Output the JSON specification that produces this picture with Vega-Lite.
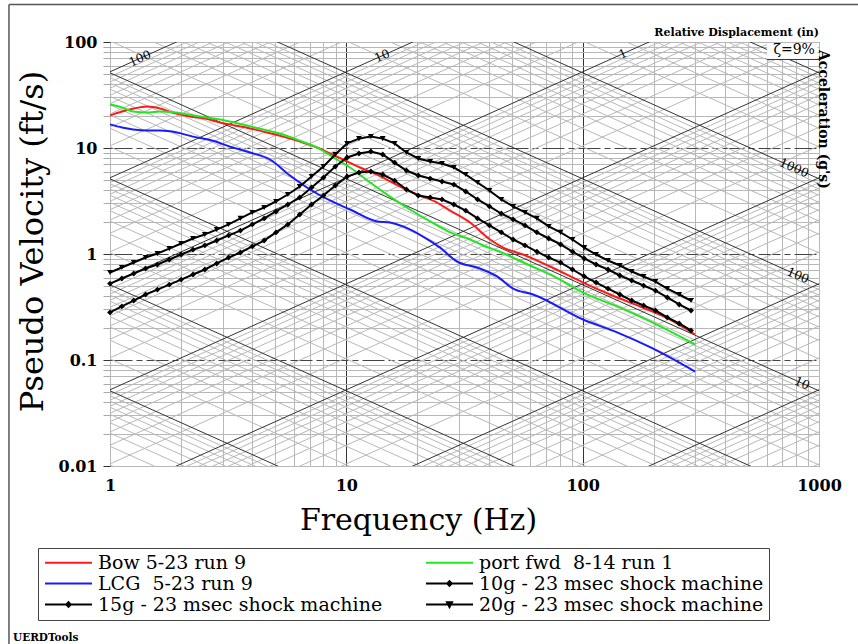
{
"$schema": "https://vega.github.io/schema/vega-lite/v6.json",
"width": 709,
"height": 424,
"autosize": {"type": "none"},
"padding": {"left": 110, "top": 42, "right": 39, "bottom": 178},
"background": "white",
"config": {
  "view": {"stroke": "#444", "strokeWidth": 1},
  "font": "DejaVu Serif",
  "axis": {"labelFont": "DejaVu Serif", "titleFont": "DejaVu Serif", "labelColor": "black", "titleColor": "black"},
  "legend": {"labelFont": "DejaVu Serif", "titleFont": "DejaVu Serif"},
  "text": {"font": "DejaVu Serif", "color": "black"}
},
"datasets": {
  "curves": [
    {"series":"Bow 5-23 run 9","f":1,"v":20.3},{"series":"Bow 5-23 run 9","f":1.124,"v":22.1},{"series":"Bow 5-23 run 9","f":1.263,"v":23.6},{"series":"Bow 5-23 run 9","f":1.434,"v":24.6},{"series":"Bow 5-23 run 9","f":1.628,"v":23.6},{"series":"Bow 5-23 run 9","f":1.884,"v":21.2},{"series":"Bow 5-23 run 9","f":2.181,"v":19.8},{"series":"Bow 5-23 run 9","f":2.523,"v":19.0},{"series":"Bow 5-23 run 9","f":2.921,"v":17.4},{"series":"Bow 5-23 run 9","f":3.381,"v":16.3},{"series":"Bow 5-23 run 9","f":3.913,"v":15.3},{"series":"Bow 5-23 run 9","f":4.617,"v":14.0},{"series":"Bow 5-23 run 9","f":5.397,"v":12.8},{"series":"Bow 5-23 run 9","f":6.37,"v":11.5},{"series":"Bow 5-23 run 9","f":7.52,"v":10.1},{"series":"Bow 5-23 run 9","f":8.53,"v":8.87},{"series":"Bow 5-23 run 9","f":9.68,"v":7.79},{"series":"Bow 5-23 run 9","f":11.43,"v":6.55},{"series":"Bow 5-23 run 9","f":14.3,"v":5.26},{"series":"Bow 5-23 run 9","f":16.88,"v":4.33},{"series":"Bow 5-23 run 9","f":19.92,"v":3.64},{"series":"Bow 5-23 run 9","f":24.2,"v":3.06},{"series":"Bow 5-23 run 9","f":27.47,"v":2.57},{"series":"Bow 5-23 run 9","f":33.39,"v":1.98},{"series":"Bow 5-23 run 9","f":40.56,"v":1.37},{"series":"Bow 5-23 run 9","f":46.05,"v":1.149},{"series":"Bow 5-23 run 9","f":55.96,"v":0.989},{"series":"Bow 5-23 run 9","f":72.8,"v":0.762},{"series":"Bow 5-23 run 9","f":100.4,"v":0.538},{"series":"Bow 5-23 run 9","f":130.6,"v":0.415},{"series":"Bow 5-23 run 9","f":175,"v":0.32},{"series":"Bow 5-23 run 9","f":234.4,"v":0.241},{"series":"Bow 5-23 run 9","f":299,"v":0.174},
    {"series":"port fwd  8-14 run 1","f":1,"v":25.7},{"series":"port fwd  8-14 run 1","f":1.124,"v":24.1},{"series":"port fwd  8-14 run 1","f":1.251,"v":22.1},{"series":"port fwd  8-14 run 1","f":1.434,"v":21.6},{"series":"port fwd  8-14 run 1","f":1.628,"v":22.1},{"series":"port fwd  8-14 run 1","f":1.884,"v":21.6},{"series":"port fwd  8-14 run 1","f":2.404,"v":19.8},{"series":"port fwd  8-14 run 1","f":3.066,"v":18.2},{"series":"port fwd  8-14 run 1","f":3.913,"v":16.0},{"series":"port fwd  8-14 run 1","f":5.397,"v":13.4},{"series":"port fwd  8-14 run 1","f":6.37,"v":11.7},{"series":"port fwd  8-14 run 1","f":7.52,"v":10.1},{"series":"port fwd  8-14 run 1","f":9.13,"v":7.79},{"series":"port fwd  8-14 run 1","f":10.37,"v":6.55},{"series":"port fwd  8-14 run 1","f":12.6,"v":4.72},{"series":"port fwd  8-14 run 1","f":15.3,"v":3.48},{"series":"port fwd  8-14 run 1","f":18.61,"v":2.63},{"series":"port fwd  8-14 run 1","f":22.61,"v":2.03},{"series":"port fwd  8-14 run 1","f":27.47,"v":1.6},{"series":"port fwd  8-14 run 1","f":33.39,"v":1.37},{"series":"port fwd  8-14 run 1","f":37.89,"v":1.204},{"series":"port fwd  8-14 run 1","f":44.72,"v":1.053},{"series":"port fwd  8-14 run 1","f":52.78,"v":0.887},{"series":"port fwd  8-14 run 1","f":59.9,"v":0.779},{"series":"port fwd  8-14 run 1","f":72.8,"v":0.641},{"series":"port fwd  8-14 run 1","f":100.4,"v":0.433},{"series":"port fwd  8-14 run 1","f":139.8,"v":0.32},{"series":"port fwd  8-14 run 1","f":192.9,"v":0.231},{"series":"port fwd  8-14 run 1","f":299,"v":0.14},
    {"series":"LCG  5-23 run 9","f":1,"v":16.7},{"series":"LCG  5-23 run 9","f":1.124,"v":15.6},{"series":"LCG  5-23 run 9","f":1.251,"v":14.96},{"series":"LCG  5-23 run 9","f":1.434,"v":14.6},{"series":"LCG  5-23 run 9","f":1.628,"v":14.6},{"series":"LCG  5-23 run 9","f":1.921,"v":14.0},{"series":"LCG  5-23 run 9","f":2.245,"v":12.8},{"series":"LCG  5-23 run 9","f":2.729,"v":11.7},{"series":"LCG  5-23 run 9","f":3.221,"v":10.3},{"series":"LCG  5-23 run 9","f":3.913,"v":9.07},{"series":"LCG  5-23 run 9","f":4.754,"v":7.79},{"series":"LCG  5-23 run 9","f":5.777,"v":5.5},{"series":"LCG  5-23 run 9","f":7.02,"v":4.06},{"series":"LCG  5-23 run 9","f":8.53,"v":3.2},{"series":"LCG  5-23 run 9","f":10.37,"v":2.63},{"series":"LCG  5-23 run 9","f":13.49,"v":2.03},{"series":"LCG  5-23 run 9","f":15.3,"v":1.98},{"series":"LCG  5-23 run 9","f":17.38,"v":1.82},{"series":"LCG  5-23 run 9","f":21.12,"v":1.46},{"series":"LCG  5-23 run 9","f":24.92,"v":1.149},{"series":"LCG  5-23 run 9","f":29.41,"v":0.849},{"series":"LCG  5-23 run 9","f":35.74,"v":0.746},{"series":"LCG  5-23 run 9","f":43.43,"v":0.614},{"series":"LCG  5-23 run 9","f":50.77,"v":0.472},{"series":"LCG  5-23 run 9","f":61.68,"v":0.415},{"series":"LCG  5-23 run 9","f":100.4,"v":0.241},{"series":"LCG  5-23 run 9","f":139.8,"v":0.182},{"series":"LCG  5-23 run 9","f":192.9,"v":0.132},{"series":"LCG  5-23 run 9","f":299,"v":0.0778},
    {"series":"20g - 23 msec shock machine","f":1,"v":0.669},{"series":"20g - 23 msec shock machine","f":1.122,"v":0.746},{"series":"20g - 23 msec shock machine","f":1.26,"v":0.831},{"series":"20g - 23 msec shock machine","f":1.414,"v":0.927},{"series":"20g - 23 msec shock machine","f":1.587,"v":1.011},{"series":"20g - 23 msec shock machine","f":1.782,"v":1.124},{"series":"20g - 23 msec shock machine","f":2,"v":1.257},{"series":"20g - 23 msec shock machine","f":2.245,"v":1.4},{"series":"20g - 23 msec shock machine","f":2.52,"v":1.53},{"series":"20g - 23 msec shock machine","f":2.828,"v":1.7},{"series":"20g - 23 msec shock machine","f":3.175,"v":1.9},{"series":"20g - 23 msec shock machine","f":3.564,"v":2.167},{"series":"20g - 23 msec shock machine","f":4,"v":2.465},{"series":"20g - 23 msec shock machine","f":4.49,"v":2.747},{"series":"20g - 23 msec shock machine","f":5.04,"v":3.13},{"series":"20g - 23 msec shock machine","f":5.657,"v":3.64},{"series":"20g - 23 msec shock machine","f":6.35,"v":4.33},{"series":"20g - 23 msec shock machine","f":7.127,"v":5.38},{"series":"20g - 23 msec shock machine","f":8,"v":6.68},{"series":"20g - 23 msec shock machine","f":8.98,"v":8.68},{"series":"20g - 23 msec shock machine","f":10.08,"v":11.04},{"series":"20g - 23 msec shock machine","f":11.31,"v":12.26},{"series":"20g - 23 msec shock machine","f":12.7,"v":12.81},{"series":"20g - 23 msec shock machine","f":14.25,"v":12.26},{"series":"20g - 23 msec shock machine","f":16,"v":11.04},{"series":"20g - 23 msec shock machine","f":17.96,"v":9.07},{"series":"20g - 23 msec shock machine","f":20.16,"v":7.96},{"series":"20g - 23 msec shock machine","f":22.63,"v":7.46},{"series":"20g - 23 msec shock machine","f":25.4,"v":7.13},{"series":"20g - 23 msec shock machine","f":28.51,"v":6.55},{"series":"20g - 23 msec shock machine","f":32,"v":5.62},{"series":"20g - 23 msec shock machine","f":35.92,"v":4.72},{"series":"20g - 23 msec shock machine","f":40.32,"v":3.97},{"series":"20g - 23 msec shock machine","f":45.25,"v":3.27},{"series":"20g - 23 msec shock machine","f":50.8,"v":2.81},{"series":"20g - 23 msec shock machine","f":57.02,"v":2.465},{"series":"20g - 23 msec shock machine","f":64,"v":2.167},{"series":"20g - 23 msec shock machine","f":71.84,"v":1.82},{"series":"20g - 23 msec shock machine","f":80.63,"v":1.6},{"series":"20g - 23 msec shock machine","f":90.51,"v":1.37},{"series":"20g - 23 msec shock machine","f":101.6,"v":1.149},{"series":"20g - 23 msec shock machine","f":114,"v":0.989},{"series":"20g - 23 msec shock machine","f":128,"v":0.868},{"series":"20g - 23 msec shock machine","f":143.7,"v":0.779},{"series":"20g - 23 msec shock machine","f":161.3,"v":0.684},{"series":"20g - 23 msec shock machine","f":181,"v":0.614},{"series":"20g - 23 msec shock machine","f":203.2,"v":0.55},{"series":"20g - 23 msec shock machine","f":228.1,"v":0.472},{"series":"20g - 23 msec shock machine","f":256,"v":0.415},{"series":"20g - 23 msec shock machine","f":287.4,"v":0.364},
    {"series":"15g - 23 msec shock machine","f":1,"v":0.526},{"series":"15g - 23 msec shock machine","f":1.122,"v":0.587},{"series":"15g - 23 msec shock machine","f":1.26,"v":0.655},{"series":"15g - 23 msec shock machine","f":1.414,"v":0.73},{"series":"15g - 23 msec shock machine","f":1.587,"v":0.796},{"series":"15g - 23 msec shock machine","f":1.782,"v":0.887},{"series":"15g - 23 msec shock machine","f":2,"v":0.989},{"series":"15g - 23 msec shock machine","f":2.245,"v":1.1},{"series":"15g - 23 msec shock machine","f":2.52,"v":1.204},{"series":"15g - 23 msec shock machine","f":2.828,"v":1.34},{"series":"15g - 23 msec shock machine","f":3.175,"v":1.497},{"series":"15g - 23 msec shock machine","f":3.564,"v":1.663},{"series":"15g - 23 msec shock machine","f":4,"v":1.9},{"series":"15g - 23 msec shock machine","f":4.49,"v":2.167},{"series":"15g - 23 msec shock machine","f":5.04,"v":2.518},{"series":"15g - 23 msec shock machine","f":5.657,"v":2.93},{"series":"15g - 23 msec shock machine","f":6.35,"v":3.416},{"series":"15g - 23 msec shock machine","f":7.127,"v":4.24},{"series":"15g - 23 msec shock machine","f":8,"v":5.26},{"series":"15g - 23 msec shock machine","f":8.98,"v":6.68},{"series":"15g - 23 msec shock machine","f":10.08,"v":8.14},{"series":"15g - 23 msec shock machine","f":11.31,"v":8.87},{"series":"15g - 23 msec shock machine","f":12.7,"v":9.27},{"series":"15g - 23 msec shock machine","f":14.25,"v":8.68},{"series":"15g - 23 msec shock machine","f":16,"v":7.29},{"series":"15g - 23 msec shock machine","f":17.96,"v":6.13},{"series":"15g - 23 msec shock machine","f":20.16,"v":5.5},{"series":"15g - 23 msec shock machine","f":22.63,"v":5.15},{"series":"15g - 23 msec shock machine","f":25.4,"v":4.83},{"series":"15g - 23 msec shock machine","f":28.51,"v":4.52},{"series":"15g - 23 msec shock machine","f":32,"v":3.89},{"series":"15g - 23 msec shock machine","f":35.92,"v":3.27},{"series":"15g - 23 msec shock machine","f":40.32,"v":2.81},{"series":"15g - 23 msec shock machine","f":45.25,"v":2.41},{"series":"15g - 23 msec shock machine","f":50.8,"v":2.12},{"series":"15g - 23 msec shock machine","f":57.02,"v":1.86},{"series":"15g - 23 msec shock machine","f":64,"v":1.6},{"series":"15g - 23 msec shock machine","f":71.84,"v":1.4},{"series":"15g - 23 msec shock machine","f":80.63,"v":1.23},{"series":"15g - 23 msec shock machine","f":90.51,"v":1.053},{"series":"15g - 23 msec shock machine","f":101.6,"v":0.907},{"series":"15g - 23 msec shock machine","f":114,"v":0.796},{"series":"15g - 23 msec shock machine","f":128,"v":0.714},{"series":"15g - 23 msec shock machine","f":143.7,"v":0.627},{"series":"15g - 23 msec shock machine","f":161.3,"v":0.562},{"series":"15g - 23 msec shock machine","f":181,"v":0.504},{"series":"15g - 23 msec shock machine","f":203.2,"v":0.452},{"series":"15g - 23 msec shock machine","f":228.1,"v":0.389},{"series":"15g - 23 msec shock machine","f":256,"v":0.334},{"series":"15g - 23 msec shock machine","f":287.4,"v":0.293},
    {"series":"10g - 23 msec shock machine","f":1,"v":0.281},{"series":"10g - 23 msec shock machine","f":1.122,"v":0.32},{"series":"10g - 23 msec shock machine","f":1.26,"v":0.364},{"series":"10g - 23 msec shock machine","f":1.414,"v":0.415},{"series":"10g - 23 msec shock machine","f":1.587,"v":0.462},{"series":"10g - 23 msec shock machine","f":1.782,"v":0.515},{"series":"10g - 23 msec shock machine","f":2,"v":0.574},{"series":"10g - 23 msec shock machine","f":2.245,"v":0.641},{"series":"10g - 23 msec shock machine","f":2.52,"v":0.714},{"series":"10g - 23 msec shock machine","f":2.828,"v":0.814},{"series":"10g - 23 msec shock machine","f":3.175,"v":0.926},{"series":"10g - 23 msec shock machine","f":3.564,"v":1.033},{"series":"10g - 23 msec shock machine","f":4,"v":1.178},{"series":"10g - 23 msec shock machine","f":4.49,"v":1.34},{"series":"10g - 23 msec shock machine","f":5.04,"v":1.598},{"series":"10g - 23 msec shock machine","f":5.657,"v":1.9},{"series":"10g - 23 msec shock machine","f":6.35,"v":2.36},{"series":"10g - 23 msec shock machine","f":7.127,"v":2.93},{"series":"10g - 23 msec shock machine","f":8,"v":3.56},{"series":"10g - 23 msec shock machine","f":8.98,"v":4.42},{"series":"10g - 23 msec shock machine","f":10.08,"v":5.38},{"series":"10g - 23 msec shock machine","f":11.31,"v":5.87},{"series":"10g - 23 msec shock machine","f":12.7,"v":6.0},{"series":"10g - 23 msec shock machine","f":14.25,"v":5.62},{"series":"10g - 23 msec shock machine","f":16,"v":4.93},{"series":"10g - 23 msec shock machine","f":17.96,"v":4.06},{"series":"10g - 23 msec shock machine","f":20.16,"v":3.56},{"series":"10g - 23 msec shock machine","f":22.63,"v":3.42},{"series":"10g - 23 msec shock machine","f":25.4,"v":3.27},{"series":"10g - 23 msec shock machine","f":28.51,"v":2.93},{"series":"10g - 23 msec shock machine","f":32,"v":2.57},{"series":"10g - 23 msec shock machine","f":35.92,"v":2.167},{"series":"10g - 23 msec shock machine","f":40.32,"v":1.86},{"series":"10g - 23 msec shock machine","f":45.25,"v":1.6},{"series":"10g - 23 msec shock machine","f":50.8,"v":1.37},{"series":"10g - 23 msec shock machine","f":57.02,"v":1.204},{"series":"10g - 23 msec shock machine","f":64,"v":1.053},{"series":"10g - 23 msec shock machine","f":71.84,"v":0.926},{"series":"10g - 23 msec shock machine","f":80.63,"v":0.831},{"series":"10g - 23 msec shock machine","f":90.51,"v":0.714},{"series":"10g - 23 msec shock machine","f":101.6,"v":0.614},{"series":"10g - 23 msec shock machine","f":114,"v":0.538},{"series":"10g - 23 msec shock machine","f":128,"v":0.472},{"series":"10g - 23 msec shock machine","f":143.7,"v":0.415},{"series":"10g - 23 msec shock machine","f":161.3,"v":0.364},{"series":"10g - 23 msec shock machine","f":181,"v":0.327},{"series":"10g - 23 msec shock machine","f":203.2,"v":0.293},{"series":"10g - 23 msec shock machine","f":228.1,"v":0.252},{"series":"10g - 23 msec shock machine","f":256,"v":0.221},{"series":"10g - 23 msec shock machine","f":287.4,"v":0.19}
  ],
  "diag": [
    {"t":"d","m":2,"v1":1.0472e-5,"v2":1.0472e-2},{"t":"d","m":3,"v1":1.5708e-5,"v2":1.5708e-2},{"t":"d","m":4,"v1":2.0944e-5,"v2":2.0944e-2},{"t":"d","m":5,"v1":2.618e-5,"v2":2.618e-2},{"t":"d","m":6,"v1":3.1416e-5,"v2":3.1416e-2},{"t":"d","m":7,"v1":3.6652e-5,"v2":3.6652e-2},{"t":"d","m":8,"v1":4.1888e-5,"v2":4.1888e-2},{"t":"d","m":9,"v1":4.7124e-5,"v2":4.7124e-2},
    {"t":"d","m":1,"v1":5.236e-5,"v2":5.236e-2},{"t":"d","m":2,"v1":1.0472e-4,"v2":1.0472e-1},{"t":"d","m":3,"v1":1.5708e-4,"v2":1.5708e-1},{"t":"d","m":4,"v1":2.0944e-4,"v2":2.0944e-1},{"t":"d","m":5,"v1":2.618e-4,"v2":2.618e-1},{"t":"d","m":6,"v1":3.1416e-4,"v2":3.1416e-1},{"t":"d","m":7,"v1":3.6652e-4,"v2":3.6652e-1},{"t":"d","m":8,"v1":4.1888e-4,"v2":4.1888e-1},{"t":"d","m":9,"v1":4.7124e-4,"v2":4.7124e-1},
    {"t":"d","m":1,"v1":5.236e-4,"v2":5.236e-1},{"t":"d","m":2,"v1":1.0472e-3,"v2":1.0472e0},{"t":"d","m":3,"v1":1.5708e-3,"v2":1.5708e0},{"t":"d","m":4,"v1":2.0944e-3,"v2":2.0944e0},{"t":"d","m":5,"v1":2.618e-3,"v2":2.618e0},{"t":"d","m":6,"v1":3.1416e-3,"v2":3.1416e0},{"t":"d","m":7,"v1":3.6652e-3,"v2":3.6652e0},{"t":"d","m":8,"v1":4.1888e-3,"v2":4.1888e0},{"t":"d","m":9,"v1":4.7124e-3,"v2":4.7124e0},
    {"t":"d","m":1,"v1":5.236e-3,"v2":5.236e0},{"t":"d","m":2,"v1":1.0472e-2,"v2":1.0472e1},{"t":"d","m":3,"v1":1.5708e-2,"v2":1.5708e1},{"t":"d","m":4,"v1":2.0944e-2,"v2":2.0944e1},{"t":"d","m":5,"v1":2.618e-2,"v2":2.618e1},{"t":"d","m":6,"v1":3.1416e-2,"v2":3.1416e1},{"t":"d","m":7,"v1":3.6652e-2,"v2":3.6652e1},{"t":"d","m":8,"v1":4.1888e-2,"v2":4.1888e1},{"t":"d","m":9,"v1":4.7124e-2,"v2":4.7124e1},
    {"t":"d","m":1,"v1":5.236e-2,"v2":5.236e1},{"t":"d","m":2,"v1":1.0472e-1,"v2":1.0472e2},{"t":"d","m":3,"v1":1.5708e-1,"v2":1.5708e2},{"t":"d","m":4,"v1":2.0944e-1,"v2":2.0944e2},{"t":"d","m":5,"v1":2.618e-1,"v2":2.618e2},{"t":"d","m":6,"v1":3.1416e-1,"v2":3.1416e2},{"t":"d","m":7,"v1":3.6652e-1,"v2":3.6652e2},{"t":"d","m":8,"v1":4.1888e-1,"v2":4.1888e2},{"t":"d","m":9,"v1":4.7124e-1,"v2":4.7124e2},
    {"t":"d","m":1,"v1":5.236e-1,"v2":5.236e2},{"t":"d","m":2,"v1":1.0472e0,"v2":1.0472e3},{"t":"d","m":3,"v1":1.5708e0,"v2":1.5708e3},{"t":"d","m":4,"v1":2.0944e0,"v2":2.0944e3},{"t":"d","m":5,"v1":2.618e0,"v2":2.618e3},{"t":"d","m":6,"v1":3.1416e0,"v2":3.1416e3},{"t":"d","m":7,"v1":3.6652e0,"v2":3.6652e3},{"t":"d","m":8,"v1":4.1888e0,"v2":4.1888e3},{"t":"d","m":9,"v1":4.7124e0,"v2":4.7124e3},
    {"t":"d","m":1,"v1":5.236e0,"v2":5.236e3},{"t":"d","m":2,"v1":1.0472e1,"v2":1.0472e4},{"t":"d","m":3,"v1":1.5708e1,"v2":1.5708e4},{"t":"d","m":4,"v1":2.0944e1,"v2":2.0944e4},{"t":"d","m":5,"v1":2.618e1,"v2":2.618e4},{"t":"d","m":6,"v1":3.1416e1,"v2":3.1416e4},{"t":"d","m":7,"v1":3.6652e1,"v2":3.6652e4},{"t":"d","m":8,"v1":4.1888e1,"v2":4.1888e4},{"t":"d","m":9,"v1":4.7124e1,"v2":4.7124e4},
    {"t":"d","m":1,"v1":5.236e1,"v2":5.236e4},
    {"t":"a","m":2,"v1":1.0241e-2,"v2":1.0241e-5},{"t":"a","m":3,"v1":1.5362e-2,"v2":1.5362e-5},{"t":"a","m":4,"v1":2.0483e-2,"v2":2.0483e-5},{"t":"a","m":5,"v1":2.5604e-2,"v2":2.5604e-5},{"t":"a","m":6,"v1":3.0724e-2,"v2":3.0724e-5},{"t":"a","m":7,"v1":3.5845e-2,"v2":3.5845e-5},{"t":"a","m":8,"v1":4.0966e-2,"v2":4.0966e-5},{"t":"a","m":9,"v1":4.6086e-2,"v2":4.6086e-5},
    {"t":"a","m":1,"v1":5.1207e-2,"v2":5.1207e-5},{"t":"a","m":2,"v1":1.0241e-1,"v2":1.0241e-4},{"t":"a","m":3,"v1":1.5362e-1,"v2":1.5362e-4},{"t":"a","m":4,"v1":2.0483e-1,"v2":2.0483e-4},{"t":"a","m":5,"v1":2.5604e-1,"v2":2.5604e-4},{"t":"a","m":6,"v1":3.0724e-1,"v2":3.0724e-4},{"t":"a","m":7,"v1":3.5845e-1,"v2":3.5845e-4},{"t":"a","m":8,"v1":4.0966e-1,"v2":4.0966e-4},{"t":"a","m":9,"v1":4.6086e-1,"v2":4.6086e-4},
    {"t":"a","m":1,"v1":5.1207e-1,"v2":5.1207e-4},{"t":"a","m":2,"v1":1.0241e0,"v2":1.0241e-3},{"t":"a","m":3,"v1":1.5362e0,"v2":1.5362e-3},{"t":"a","m":4,"v1":2.0483e0,"v2":2.0483e-3},{"t":"a","m":5,"v1":2.5604e0,"v2":2.5604e-3},{"t":"a","m":6,"v1":3.0724e0,"v2":3.0724e-3},{"t":"a","m":7,"v1":3.5845e0,"v2":3.5845e-3},{"t":"a","m":8,"v1":4.0966e0,"v2":4.0966e-3},{"t":"a","m":9,"v1":4.6086e0,"v2":4.6086e-3},
    {"t":"a","m":1,"v1":5.1207e0,"v2":5.1207e-3},{"t":"a","m":2,"v1":1.0241e1,"v2":1.0241e-2},{"t":"a","m":3,"v1":1.5362e1,"v2":1.5362e-2},{"t":"a","m":4,"v1":2.0483e1,"v2":2.0483e-2},{"t":"a","m":5,"v1":2.5604e1,"v2":2.5604e-2},{"t":"a","m":6,"v1":3.0724e1,"v2":3.0724e-2},{"t":"a","m":7,"v1":3.5845e1,"v2":3.5845e-2},{"t":"a","m":8,"v1":4.0966e1,"v2":4.0966e-2},{"t":"a","m":9,"v1":4.6086e1,"v2":4.6086e-2},
    {"t":"a","m":1,"v1":5.1207e1,"v2":5.1207e-2},{"t":"a","m":2,"v1":1.0241e2,"v2":1.0241e-1},{"t":"a","m":3,"v1":1.5362e2,"v2":1.5362e-1},{"t":"a","m":4,"v1":2.0483e2,"v2":2.0483e-1},{"t":"a","m":5,"v1":2.5604e2,"v2":2.5604e-1},{"t":"a","m":6,"v1":3.0724e2,"v2":3.0724e-1},{"t":"a","m":7,"v1":3.5845e2,"v2":3.5845e-1},{"t":"a","m":8,"v1":4.0966e2,"v2":4.0966e-1},{"t":"a","m":9,"v1":4.6086e2,"v2":4.6086e-1},
    {"t":"a","m":1,"v1":5.1207e2,"v2":5.1207e-1},{"t":"a","m":2,"v1":1.0241e3,"v2":1.0241e0},{"t":"a","m":3,"v1":1.5362e3,"v2":1.5362e0},{"t":"a","m":4,"v1":2.0483e3,"v2":2.0483e0},{"t":"a","m":5,"v1":2.5604e3,"v2":2.5604e0},{"t":"a","m":6,"v1":3.0724e3,"v2":3.0724e0},{"t":"a","m":7,"v1":3.5845e3,"v2":3.5845e0},{"t":"a","m":8,"v1":4.0966e3,"v2":4.0966e0},{"t":"a","m":9,"v1":4.6086e3,"v2":4.6086e0},
    {"t":"a","m":1,"v1":5.1207e3,"v2":5.1207e0},{"t":"a","m":2,"v1":1.0241e4,"v2":1.0241e1},{"t":"a","m":3,"v1":1.5362e4,"v2":1.5362e1},{"t":"a","m":4,"v1":2.0483e4,"v2":2.0483e1},{"t":"a","m":5,"v1":2.5604e4,"v2":2.5604e1},{"t":"a","m":6,"v1":3.0724e4,"v2":3.0724e1},{"t":"a","m":7,"v1":3.5845e4,"v2":3.5845e1},{"t":"a","m":8,"v1":4.0966e4,"v2":4.0966e1},{"t":"a","m":9,"v1":4.6086e4,"v2":4.6086e1},
    {"t":"a","m":1,"v1":5.1207e4,"v2":5.1207e1}
  ]
},
"layer": [
  {
    "data": {"name": "diag"},
    "transform": [{"filter": "datum.m != 1"}],
    "mark": {"type": "rule", "clip": true, "color": "#b8b8b8", "strokeWidth": 1},
    "encoding": {
      "x": {"datum": 1, "type": "quantitative", "scale": {"type": "log", "domain": [1, 1000], "nice": false},
        "axis": {
          "values": [1,2,3,4,5,6,7,8,9,10,20,30,40,50,60,70,80,90,100,200,300,400,500,600,700,800,900,1000],
          "format": "~g",
          "labelExpr": "indexof([1,10,100,1000], datum.value) >= 0 ? datum.label : ''",
          "labelFlush": false, "labelOverlap": false,
          "labelFontWeight": "bold", "labelFontSize": 16, "labelPadding": 11,
          "ticks": false, "domain": false,
          "grid": true,
          "gridColor": {"condition": {"test": "indexof([10,100], datum.value) >= 0", "value": "#333"}, "value": "#b8b8b8"},
          "gridWidth": 1,
          "title": "Frequency (Hz)", "titleFontSize": 30, "titleFontWeight": "normal",
          "titleX": 308, "titleY": 63, "titleAlign": "center", "titleBaseline": "alphabetic"
        }},
      "x2": {"datum": 1000},
      "y": {"field": "v1", "type": "quantitative", "scale": {"type": "log", "domain": [0.01, 100], "nice": false},
        "axis": {
          "values": [0.01,0.02,0.03,0.04,0.05,0.06,0.07,0.08,0.09,0.1,0.2,0.3,0.4,0.5,0.6,0.7,0.8,0.9,1,2,3,4,5,6,7,8,9,10,20,30,40,50,60,70,80,90,100],
          "format": "~g",
          "labelExpr": "indexof([0.01,0.1,1,10,100], datum.value) >= 0 ? datum.label : ''",
          "labelFlush": false, "labelOverlap": false,
          "labelFontWeight": "bold", "labelFontSize": 16, "labelPadding": 6,
          "ticks": true, "tickSize": 7, "tickWidth": 1,
          "tickColor": {"condition": {"test": "indexof([0.01,0.1,1,10,100], datum.value) >= 0", "value": "#333"}, "value": "#aaa"},
          "domain": false,
          "grid": true,
          "gridColor": {"condition": {"test": "indexof([0.1,1,10], datum.value) >= 0", "value": "#444"}, "value": "#b8b8b8"},
          "gridDash": {"condition": {"test": "indexof([0.1,1,10], datum.value) >= 0", "value": [22,4,6,4]}, "value": []},
          "title": "Pseudo Velocity (ft/s)", "titleFontSize": 32, "titleFontWeight": "normal",
          "titleX": -68, "titleY": 199, "titleAngle": 270, "titleAlign": "center", "titleBaseline": "alphabetic"
        }},
      "y2": {"field": "v2"}
    }
  },
  {
    "data": {"name": "diag"},
    "transform": [{"filter": "datum.m == 1"}],
    "mark": {"type": "rule", "clip": true, "color": "#333", "strokeWidth": 1},
    "encoding": {
      "x": {"datum": 1, "type": "quantitative"},
      "x2": {"datum": 1000},
      "y": {"field": "v1", "type": "quantitative"},
      "y2": {"field": "v2"}
    }
  },
  {
    "data": {"values": [{}]},
    "mark": {"type": "rect", "fill": "white", "stroke": null},
    "encoding": {
      "x": {"datum": 603, "type": "quantitative"}, "x2": {"datum": 985},
      "y": {"datum": 97.8, "type": "quantitative"}, "y2": {"datum": 68.4}
    }
  },
  {
    "data": {"values": [{}]},
    "mark": {"type": "rule", "color": "#333", "strokeWidth": 1},
    "encoding": {
      "x": {"datum": 603, "type": "quantitative"}, "x2": {"datum": 1000},
      "y": {"datum": 68.4, "type": "quantitative"}
    }
  },
  {
    "data": {"values": [{}]},
    "mark": {"type": "text", "text": "ζ=9%", "fontSize": 14, "align": "center", "baseline": "middle"},
    "encoding": {"x": {"datum": 785, "type": "quantitative"}, "y": {"datum": 83.2, "type": "quantitative"}}
  },
  {
    "data": {"values": [{}]},
    "mark": {"type": "text", "text": "100", "fontSize": 12, "angle": -24, "align": "center", "baseline": "middle"},
    "encoding": {"x": {"datum": 1.339, "type": "quantitative"}, "y": {"datum": 70.1, "type": "quantitative"}}
  },
  {
    "data": {"values": [{}]},
    "mark": {"type": "text", "text": "10", "fontSize": 12, "angle": -24, "align": "center", "baseline": "middle"},
    "encoding": {"x": {"datum": 14.16, "type": "quantitative"}, "y": {"datum": 74.1, "type": "quantitative"}}
  },
  {
    "data": {"values": [{}]},
    "mark": {"type": "text", "text": "1", "fontSize": 12, "angle": -24, "align": "center", "baseline": "middle"},
    "encoding": {"x": {"datum": 148, "type": "quantitative"}, "y": {"datum": 77.5, "type": "quantitative"}}
  },
  {
    "data": {"values": [{}]},
    "mark": {"type": "text", "text": "1000", "fontSize": 12, "angle": 24, "align": "center", "baseline": "middle"},
    "encoding": {"x": {"datum": 785, "type": "quantitative"}, "y": {"datum": 6.52, "type": "quantitative"}}
  },
  {
    "data": {"values": [{}]},
    "mark": {"type": "text", "text": "100", "fontSize": 12, "angle": 24, "align": "center", "baseline": "middle"},
    "encoding": {"x": {"datum": 815, "type": "quantitative"}, "y": {"datum": 0.628, "type": "quantitative"}}
  },
  {
    "data": {"values": [{}]},
    "mark": {"type": "text", "text": "10", "fontSize": 12, "angle": 24, "align": "center", "baseline": "middle"},
    "encoding": {"x": {"datum": 848, "type": "quantitative"}, "y": {"datum": 0.0604, "type": "quantitative"}}
  },
  {
    "data": {"name": "curves"},
    "transform": [{"filter": "indexof(datum.series, 'shock') < 0"}],
    "mark": {"type": "line", "strokeWidth": 2, "interpolate": "monotone"},
    "encoding": {
      "x": {"field": "f", "type": "quantitative"},
      "y": {"field": "v", "type": "quantitative"},
      "color": {"field": "series", "type": "nominal",
        "scale": {"domain": ["Bow 5-23 run 9", "port fwd  8-14 run 1", "LCG  5-23 run 9", "10g - 23 msec shock machine", "15g - 23 msec shock machine", "20g - 23 msec shock machine"],
                  "range": ["#ff1a1a", "#22e622", "#1a1aff", "black", "black", "black"]},
        "legend": {
          "title": null,
          "orient": "none", "legendX": -72, "legendY": 506,
          "direction": "horizontal", "columns": 2, "columnPadding": 39, "rowPadding": 1,
          "padding": 5, "strokeColor": "#444", "fillColor": "white",
          "labelFont": "DejaVu Serif", "labelFontSize": 19, "labelColor": "black", "labelLimit": 500, "labelOffset": 36,
          "symbolSize": 100, "symbolStrokeWidth": 2, "symbolType": "stroke",
          "labelExpr": "replace(datum.label, '  ', '\u00a0 ')",
          "encoding": {
            "symbols": {
              "shape": {"value": {"expr": "indexof(datum.value, '20g') >= 0 ? 'M-1.5,0H7.9M2.7,-0.45L3.7,-0.45L3.2,0.5Z' : (indexof(datum.value, 'shock') >= 0 ? 'M-1.5,0H7.9M3.2,-0.45L3.65,0L3.2,0.45L2.75,0Z' : 'M-1.5,0H7.9')"}},
              "fill": {"value": {"expr": "indexof(datum.value, 'shock') >= 0 ? 'black' : 'transparent'"}}
            }
          }
        }}
    }
  },
  {
    "data": {"name": "curves"},
    "transform": [{"filter": "indexof(datum.series, 'shock') >= 0"}],
    "mark": {"type": "line", "strokeWidth": 2},
    "encoding": {
      "x": {"field": "f", "type": "quantitative"},
      "y": {"field": "v", "type": "quantitative"},
      "color": {"field": "series", "type": "nominal"}
    }
  },
  {
    "data": {"name": "curves"},
    "transform": [{"filter": "indexof(datum.series, 'shock') >= 0"}],
    "mark": {"type": "point", "filled": true, "color": "black", "opacity": 1},
    "encoding": {
      "x": {"field": "f", "type": "quantitative"},
      "y": {"field": "v", "type": "quantitative"},
      "shape": {"field": "series", "type": "nominal",
        "scale": {"domain": ["10g - 23 msec shock machine", "15g - 23 msec shock machine", "20g - 23 msec shock machine"], "range": ["diamond", "diamond", "triangle-down"]},
        "legend": null},
      "size": {"field": "series", "type": "nominal",
        "scale": {"domain": ["10g - 23 msec shock machine", "15g - 23 msec shock machine", "20g - 23 msec shock machine"], "range": [34, 34, 44]},
        "legend": null}
    }
  },
  {
    "data": {"values": [{}]},
    "mark": {"type": "text", "text": "Relative Displacement (in)", "fontSize": 11, "fontWeight": "bold", "align": "right", "baseline": "alphabetic"},
    "encoding": {"x": {"datum": 1000, "type": "quantitative"}, "y": {"datum": 112.7, "type": "quantitative"}}
  },
  {
    "data": {"values": [{}]},
    "mark": {"type": "text", "text": "Acceleration (g's)", "fontSize": 14, "fontWeight": "bold", "angle": 90, "align": "center", "baseline": "middle"},
    "encoding": {"x": {"datum": 1041, "type": "quantitative"}, "y": {"datum": 18.6, "type": "quantitative"}}
  },
  {
    "data": {"values": [{}]},
    "mark": {"type": "text", "text": "UERDTools", "fontSize": 10.5, "fontWeight": "bold", "align": "left", "baseline": "alphabetic"},
    "encoding": {"x": {"datum": 0.3886, "type": "quantitative"}, "y": {"datum": 0.000221, "type": "quantitative"}}
  },
  {
    "data": {"values": [{}]},
    "mark": {"type": "rule", "color": "#555", "strokeWidth": 1.5},
    "encoding": {"x": {"datum": 0.3737, "type": "quantitative"}, "x2": {"datum": 100000}, "y": {"datum": 226, "type": "quantitative"}}
  },
  {
    "data": {"values": [{}]},
    "mark": {"type": "rule", "color": "#555", "strokeWidth": 1.5},
    "encoding": {"x": {"datum": 0.3737, "type": "quantitative"}, "y": {"datum": 226, "type": "quantitative"}, "y2": {"datum": 0.00001}}
  }
]
}
